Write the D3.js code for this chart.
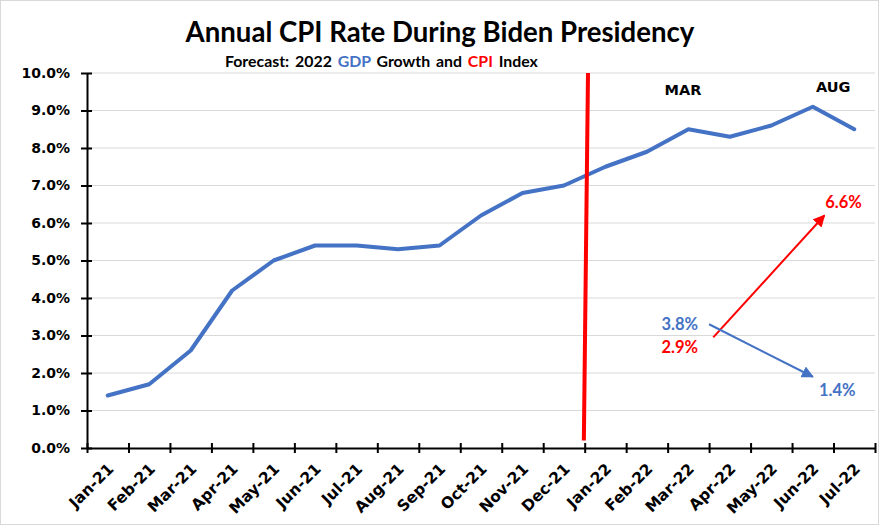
<!DOCTYPE html>
<html><head><meta charset="utf-8">
<script src="https://cdn.jsdelivr.net/npm/d3@7/dist/d3.min.js"></script>
<style>body{margin:0;background:#fff}svg{display:block}</style>
</head><body>
<svg id="c" width="881" height="526"></svg>
<script>
// ---- data ----
const months = ["Jan-21","Feb-21","Mar-21","Apr-21","May-21","Jun-21","Jul-21","Aug-21","Sep-21","Oct-21","Nov-21","Dec-21","Jan-22","Feb-22","Mar-22","Apr-22","May-22","Jun-22","Jul-22"];
const cpiRate = [1.4,1.7,2.6,4.2,5.0,5.4,5.4,5.3,5.4,6.2,6.8,7.0,7.5,7.9,8.5,8.3,8.6,9.1,8.5];
const yTicks = [0,1,2,3,4,5,6,7,8,9,10];
const titleText = "Annual CPI Rate During Biden Presidency";
const subtitleParts = [["Forecast: 2022 ","#000"],["GDP","#4472C4"],[" Growth and ","#000"],["CPI","#FF0000"],[" Index","#000"]];
// annotations in data units: x = category-boundary units, y = percent
const dividerLine = [[12.08,10.0],[11.98,0.2]];
const cpiForecastArrow = [[15.1,2.95],[17.78,6.2]];
const gdpForecastArrow = [[15.0,3.3],[17.5,1.9]];
const forecastLabels = [
  {text:"6.6%", x:17.8, y:6.56, color:"#FF0000"},
  {text:"3.8%", x:13.85, y:3.3, color:"#4472C4"},
  {text:"2.9%", x:13.85, y:2.7, color:"#FF0000"},
  {text:"1.4%", x:17.65, y:1.55, color:"#4472C4"}
];
const monthMarkers = [{text:"MAR", x:14.37, y:9.56},{text:"AUG", x:17.99, y:9.63}];

// ---- layout ----
const svg = d3.select("#c");
const mLeft = 87, mRight = 875, mTop = 73, mBottom = 448;
const blue = "#4472C4", red = "#FF0000";

svg.append("rect").attr("x",0.5).attr("y",0.5).attr("width",878).attr("height",524)
  .attr("fill","#fff").attr("stroke","#d9d9d9");

const x = d3.scaleBand().domain(months).range([mLeft,mRight]).padding(0);
const xl = d3.scaleLinear().domain([0,months.length]).range([mLeft,mRight]);
const y = d3.scaleLinear().domain([0,10]).range([mBottom,mTop]);

// gridlines
svg.append("g").selectAll("line").data(yTicks.filter(d=>d>0)).join("line")
  .attr("x1",mLeft).attr("x2",mRight).attr("y1",d=>y(d)).attr("y2",d=>y(d))
  .attr("stroke","#d9d9d9").attr("stroke-width",1);

// y axis
const yAxis = svg.append("g").attr("transform",`translate(${mLeft},0)`)
  .call(d3.axisLeft(y).tickValues(yTicks).tickFormat(d=>d.toFixed(1)+"%").tickSizeInner(6).tickSizeOuter(0).tickPadding(11));
yAxis.select(".domain").attr("stroke","#000").attr("stroke-width",2);
yAxis.selectAll(".tick line").attr("x2",5).attr("x1",-6).attr("stroke-width",2);
yAxis.selectAll("text").attr("font-family","DejaVu Sans").attr("font-weight","bold").attr("font-size",14).attr("fill","#000");

// x axis
const xAxis = svg.append("g").attr("transform",`translate(0,${mBottom})`)
  .call(d3.axisBottom(xl).tickValues(d3.range(0,months.length+1)).tickFormat("").tickSizeOuter(0));
xAxis.select(".domain").attr("stroke","#000").attr("stroke-width",2);
xAxis.selectAll(".tick line").attr("y1",-5).attr("y2",5).attr("stroke-width",2);
svg.append("g").selectAll("text").data(months).join("text")
  .attr("transform",d=>`translate(${x(d)+x.bandwidth()/2+3},${mBottom+18}) rotate(-45)`)
  .attr("text-anchor","end").attr("dy","0.35em")
  .attr("font-family","DejaVu Sans").attr("font-weight","bold").attr("font-size",15.5)
  .text(d=>d);

// CPI line
svg.append("path").datum(cpiRate)
  .attr("d", d3.line().x((d,i)=>x(months[i])+x.bandwidth()/2).y(d=>y(d)))
  .attr("fill","none").attr("stroke",blue).attr("stroke-width",4).attr("stroke-linejoin","round").attr("stroke-linecap","round");

// divider line
svg.append("path").datum(dividerLine)
  .attr("d", d3.line().x(d=>xl(d[0])).y(d=>y(d[1])))
  .attr("stroke",red).attr("stroke-width",4).attr("fill","none");

// arrows
const defs = svg.append("defs");
[["arRed",red],["arBlue",blue]].forEach(([id,c])=>{
  defs.append("marker").attr("id",id).attr("viewBox","0 0 10 10").attr("refX",9).attr("refY",5)
    .attr("markerWidth",6).attr("markerHeight",6).attr("markerUnits","strokeWidth").attr("orient","auto")
    .append("path").attr("d","M0,0L10,5L0,10z").attr("fill",c);
});
svg.append("path").datum(cpiForecastArrow).attr("d",d3.line().x(d=>xl(d[0])).y(d=>y(d[1])))
  .attr("stroke",red).attr("stroke-width",2).attr("fill","none").attr("marker-end","url(#arRed)");
svg.append("path").datum(gdpForecastArrow).attr("d",d3.line().x(d=>xl(d[0])).y(d=>y(d[1])))
  .attr("stroke",blue).attr("stroke-width",2).attr("fill","none").attr("marker-end","url(#arBlue)");

svg.append("g").selectAll("text").data(forecastLabels).join("text")
  .attr("x",d=>xl(d.x)).attr("y",d=>y(d.y)).attr("dy","0.35em")
  .attr("fill",d=>d.color).attr("font-family","Lato").attr("font-weight","bold").attr("font-size",16.5)
  .text(d=>d.text);

svg.append("g").selectAll("text").data(monthMarkers).join("text")
  .attr("x",d=>xl(d.x)).attr("y",d=>y(d.y)).attr("text-anchor","middle").attr("dy","0.35em")
  .attr("font-family","DejaVu Sans").attr("font-weight","bold").attr("font-size",14.5)
  .text(d=>d.text);

// title
const t = svg.append("text").attr("x",440).attr("y",42).attr("text-anchor","middle")
  .attr("font-family","Lato").attr("font-weight","bold").attr("font-size",27).text(titleText);
const tw = t.node().getComputedTextLength();
t.attr("font-size", 27*509/tw);

const st = svg.append("text").attr("x",225).attr("y",67)
  .attr("font-family","Lato").attr("font-weight","bold").attr("font-size",13.5).attr("xml:space","preserve").attr("word-spacing",2);
st.selectAll("tspan").data(subtitleParts).join("tspan").attr("fill",d=>d[1]).text(d=>d[0]);
const sw = st.node().getComputedTextLength();
st.attr("font-size", 13.5*315/sw);
</script>
</body></html>
